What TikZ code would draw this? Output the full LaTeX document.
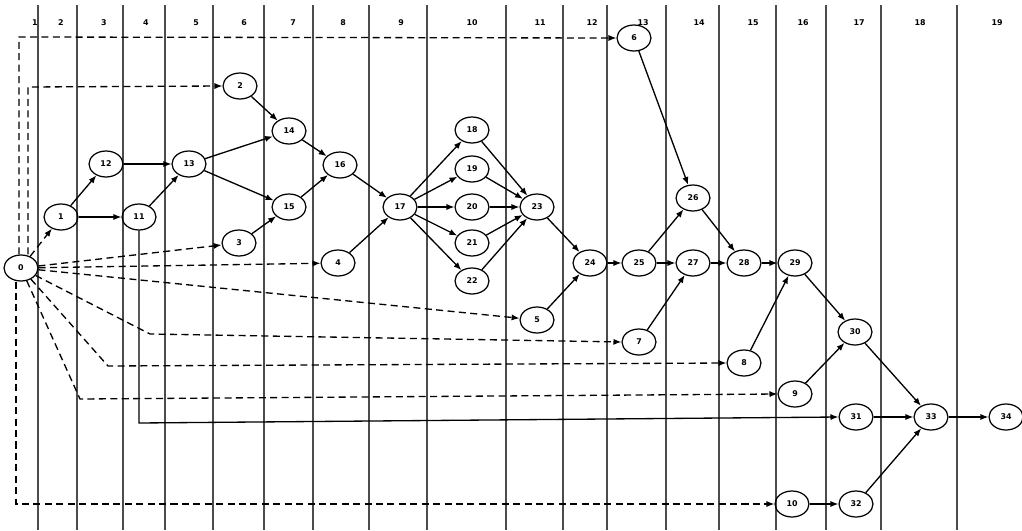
\documentclass[tikz,border=0pt]{standalone}
\usepackage{fontspec}
\setmainfont{DejaVu Sans}
\usetikzlibrary{shapes.geometric,arrows.meta}
\begin{document}
\begin{tikzpicture}[x=0.02cm,y=-0.02cm,
  ev/.style={ellipse,draw,line width=0.7pt,minimum width=0.68cm,minimum height=0.52cm,inner sep=0pt,font=\fontsize{4.5}{5}\selectfont\bfseries},
  act/.style={-{Latex[length=4.5pt,width=3.5pt]},line width=0.75pt},
  dum/.style={act,dash pattern=on 4pt off 2.5pt},
  col/.style={line width=1.1pt,draw=black!70},
  hdr/.style={font=\fontsize{4.5}{5}\selectfont\bfseries}]
\useasboundingbox (0,0) rectangle (1022,531);
% column separators
\foreach \x in {38,77,123,165,213,264,313,369,427,506,563,607,666,719,776,826,881,957}
  \draw[col] (\x,5) -- (\x,530);
% column headers
\foreach \x/\t in {35/1,61/2,104/3,146/4,196/5,244/6,293/7,343/8,401/9,472/10,540/11,592/12,643/13,699/14,753/15,803/16,859/17,920/18,997/19}
  \node[hdr] (h\t) at (\x,23) {\t};
% events
\node[ev] (n0) at (21,268) {0};
\node[ev] (n1) at (61,217) {1};
\node[ev] (n12) at (106,164) {12};
\node[ev] (n11) at (139,217) {11};
\node[ev] (n13) at (189,164) {13};
\node[ev] (n2) at (240,86) {2};
\node[ev] (n3) at (239,243) {3};
\node[ev] (n14) at (289,131) {14};
\node[ev] (n15) at (289,207) {15};
\node[ev] (n16) at (340,165) {16};
\node[ev] (n4) at (338,263) {4};
\node[ev] (n17) at (400,207) {17};
\node[ev] (n18) at (472,130) {18};
\node[ev] (n19) at (472,169) {19};
\node[ev] (n20) at (472,207) {20};
\node[ev] (n21) at (472,243) {21};
\node[ev] (n22) at (472,281) {22};
\node[ev] (n23) at (537,207) {23};
\node[ev] (n5) at (537,320) {5};
\node[ev] (n24) at (590,263) {24};
\node[ev] (n25) at (639,263) {25};
\node[ev] (n6) at (634,38) {6};
\node[ev] (n7) at (639,342) {7};
\node[ev] (n26) at (693,198) {26};
\node[ev] (n27) at (693,263) {27};
\node[ev] (n28) at (744,263) {28};
\node[ev] (n29) at (795,263) {29};
\node[ev] (n8) at (744,363) {8};
\node[ev] (n9) at (795,394) {9};
\node[ev] (n30) at (855,332) {30};
\node[ev] (n31) at (856,417) {31};
\node[ev] (n10) at (792,504) {10};
\node[ev] (n32) at (856,504) {32};
\node[ev] (n33) at (931,417) {33};
\node[ev] (n34) at (1006,417) {34};
% corner points of routes
\coordinate (c6) at (19,37);
\coordinate (c2) at (28,87);
\coordinate (c7) at (150,334);
\coordinate (c8) at (108,366);
\coordinate (c9) at (80,399);
\coordinate (c10) at (16,504);
\coordinate (c31) at (139,423);
% activities
\draw[act] (n1) -- (n12);
\draw[act] (n1) -- (n11);
\draw[act] (n12) -- (n13);
\draw[act] (n11) -- (n13);
\draw[act] (n13) -- (n14);
\draw[act] (n13) -- (n15);
\draw[act] (n2) -- (n14);
\draw[act] (n3) -- (n15);
\draw[act] (n14) -- (n16);
\draw[act] (n15) -- (n16);
\draw[act] (n16) -- (n17);
\draw[act] (n4) -- (n17);
\foreach \k in {18,19,20,21,22} {
  \draw[act] (n17) -- (n\k);
  \draw[act] (n\k) -- (n23);
}
\draw[act] (n23) -- (n24);
\draw[act] (n5) -- (n24);
\draw[act] (n24) -- (n25);
\draw[act] (n25) -- (n26);
\draw[act] (n25) -- (n27);
\draw[act] (n6) -- (n26);
\draw[act] (n7) -- (n27);
\draw[act] (n26) -- (n28);
\draw[act] (n27) -- (n28);
\draw[act] (n28) -- (n29);
\draw[act] (n8) -- (n29);
\draw[act] (n29) -- (n30);
\draw[act] (n9) -- (n30);
\draw[act] (n30) -- (n33);
\draw[act] (n31) -- (n33);
\draw[act] (n10) -- (n32);
\draw[act] (n32) -- (n33);
\draw[act] (n33) -- (n34);
\draw[act] (n11.south) -- (c31) -- (n31.west);
% dummy activities from event 0
\draw[dum] (n0.north) ++(-2,0) coordinate (s6) (s6) -- (c6) -- (n6.west);
\draw[dum] (n0.north) ++(7,0) coordinate (s2) (s2) -- (c2) -- (n2.west);
\draw[dum] (n0) -- (n1);
\draw[dum] (n0) -- (n3);
\draw[dum] (n0) -- (n4);
\draw[dum] (n0) -- (n5);
\draw[dum] (n0) -- (c7) -- (n7.west);
\draw[dum] (n0) -- (c8) -- (n8.west);
\draw[dum] (n0) -- (c9) -- (n9.west);
\draw[dum] (n0.south) ++(-5,0) coordinate (s10) (s10) -- (c10) -- (n10.west);
\end{tikzpicture}
\end{document}
